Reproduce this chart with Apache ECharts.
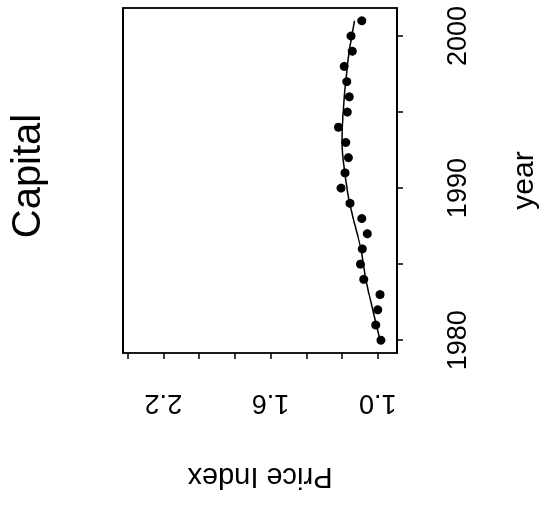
<!DOCTYPE html>
<html>
<head>
<meta charset="utf-8">
<script src="https://cdn.jsdelivr.net/npm/echarts@6/dist/echarts.min.js"></script>
<style>
  html, body { margin: 0; padding: 0; background: #fff; overflow: hidden; width: 546px; height: 506px; }
  /* plot is drawn upright, then turned a quarter turn counter-clockwise like the original */
  #chart {
    position: absolute; left: 0; top: 0;
    width: 506px; height: 546px;
    transform-origin: 0 0;
    transform: translateY(506px) rotate(-90deg);
  }
</style>
</head>
<body>
<div id="chart"></div>
<script>
const FONT = '"Liberation Sans", Arial, Helvetica, sans-serif';

const years = [1980, 1981, 1982, 1983, 1984, 1985, 1986, 1987, 1988, 1989, 1990,
               1991, 1992, 1993, 1994, 1995, 1996, 1997, 1998, 1999, 2000, 2001];
const priceIndex = [0.982, 1.011, 1.0, 0.987, 1.078, 1.097, 1.086, 1.058, 1.089, 1.155, 1.205,
                    1.183, 1.164, 1.179, 1.220, 1.170, 1.159, 1.173, 1.188, 1.142, 1.149, 1.089];
// smoothed trend as drawn
const trend = [0.987, 1.007, 1.028, 1.048, 1.067, 1.080, 1.094, 1.115, 1.137, 1.157, 1.172,
               1.185, 1.195, 1.200, 1.199, 1.193, 1.187, 1.179, 1.170, 1.159, 1.145, 1.130];

const yearTicks = [1980, 1985, 1990, 1995, 2000];
const yearLabels = [1980, 1990, 2000];
const priceTicks = [1.0, 1.2, 1.4, 1.6, 1.8, 2.0, 2.2, 2.4];
const priceLabels = [1.0, 1.6, 2.2];

const chart = echarts.init(document.getElementById('chart'));

const tickStyle = { color: '#000', width: 1.5 };

chart.setOption({
    animation: false,
    backgroundColor: '#fff',
    title: {
        text: 'Capital',
        left: 325,
        top: 4,
        textAlign: 'center',
        textStyle: { fontFamily: FONT, fontSize: 40, fontWeight: 'normal', color: '#000' }
    },
    grid: {
        left: 153, right: 8, top: 123, bottom: 149,
        show: true, borderColor: '#000', borderWidth: 1.8, backgroundColor: 'transparent'
    },
    xAxis: {
        type: 'value',
        min: 1979.16,
        max: 2001.84,
        name: 'year',
        nameLocation: 'middle',
        nameGap: 113,
        nameTextStyle: { fontFamily: FONT, fontSize: 30, color: '#000' },
        axisLine: { show: false },
        axisTick: { show: true, length: 6, customValues: yearTicks, lineStyle: tickStyle },
        axisLabel: {
            customValues: yearLabels,
            margin: 48,
            fontFamily: FONT, fontSize: 27, color: '#000',
            formatter: v => String(v)
        },
        splitLine: { show: false }
    },
    yAxis: {
        type: 'value',
        min: 0.892,
        max: 2.426,
        name: 'Price Index',
        nameLocation: 'middle',
        nameRotate: 90,
        nameGap: 109,
        nameTextStyle: { fontFamily: FONT, fontSize: 29, color: '#000' },
        axisLine: { show: false },
        axisTick: { show: true, length: 6, customValues: priceTicks, lineStyle: tickStyle },
        axisLabel: {
            customValues: priceLabels,
            rotate: 90,
            margin: 36,
            fontFamily: FONT, fontSize: 27, color: '#000',
            formatter: v => v.toFixed(1)
        },
        splitLine: { show: false }
    },
    series: [
        {
            type: 'scatter',
            data: years.map((y, i) => [y, priceIndex[i]]),
            symbol: 'circle',
            symbolSize: 9,
            itemStyle: { color: '#000', opacity: 1 }
        },
        {
            type: 'line',
            data: years.map((y, i) => [y, trend[i]]),
            showSymbol: false,
            smooth: 0.3,
            lineStyle: { color: '#000', width: 1.5 }
        }
    ]
});
</script>
</body>
</html>
